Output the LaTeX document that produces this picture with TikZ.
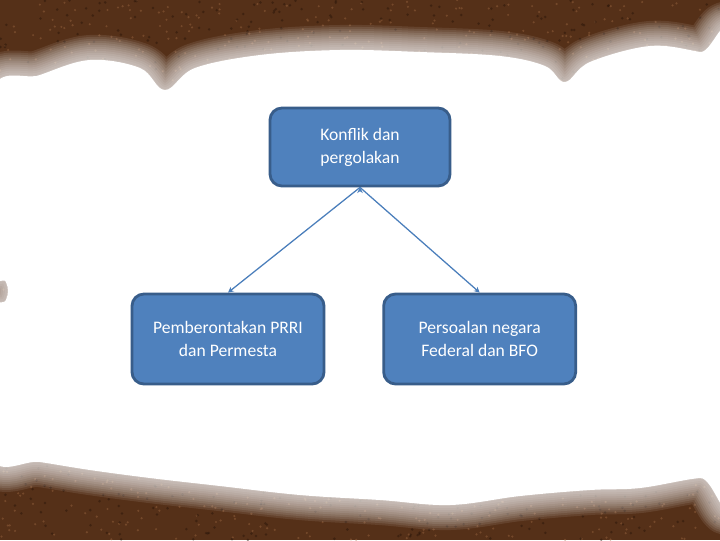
\documentclass[tikz,border=0pt]{standalone}
\usepackage{fontspec}
\setmainfont{Carlito}
\usetikzlibrary{arrows.meta}
\usetikzlibrary{positioning}
\definecolor{boxfill}{HTML}{4F81BD}
\definecolor{boxline}{HTML}{385D8A}
\definecolor{linkline}{HTML}{4A7EBB}
\definecolor{soil}{HTML}{553018}
\definecolor{soillight}{HTML}{9A6640}
\definecolor{soildark}{HTML}{2A160A}

\begin{document}
\begin{tikzpicture}[x=0.025cm,y=-0.025cm]
\tikzset{
  topic box/.style = {rectangle,rounded corners=0.3cm,draw=boxline,fill=boxfill,line width=2pt,
                      text=white,align=center,font=\fontsize{12.5}{16.3}\selectfont,inner sep=2pt},
  link/.style = {draw=linkline,line width=0.9pt,-{Stealth[length=4pt,width=4pt]}}
}
\useasboundingbox (0,0) rectangle (720,540);

%%%%%%%%%%%%%%%%%%%%%%%%%%%%%%%%%%%%%%%%%%
% background
\fill[soil] (0,0) rectangle (720,540);
\pgfmathsetseed{7}
\foreach \i in {1,...,1800} {
  \pgfmathsetmacro\rx{720*rnd}
  \pgfmathsetmacro\ry{540*rnd}
  \fill[soillight,opacity=0.45] (\rx,\ry) circle (0.03cm);
}
\foreach \i in {1,...,1400} {
  \pgfmathsetmacro\rx{720*rnd}
  \pgfmathsetmacro\ry{540*rnd}
  \fill[soildark,opacity=0.5] (\rx,\ry) circle (0.035cm);
}
\def\cloud{plot[smooth cycle,tension=0.6] coordinates {
  (-10,95) (40,75) (90,60) (140,68) (165,90) (195,68) (260,55) (340,50) (420,52)
  (500,56) (545,66) (565,82) (590,62) (650,46) (700,52) (735,60)
  (735,480) (700,478) (640,488) (590,490) (520,496) (450,505) (380,500)
  (300,495) (220,486) (150,478) (90,470) (40,462) (-10,455)
  (-10,320) (6,300) (6,282) (-10,262)}}
\foreach \w in {50,46,...,2} {
  \draw[white,opacity=0.09,line width={\w*0.025cm},line join=round] \cloud;
}
\fill[white] \cloud;

%%%%%%%%%%%%%%%%%%%%%%%%%%%%%%%%%%%%%%%%%%
\node[topic box,minimum width=4.5cm,minimum height=1.95cm] (konflik) at (360,147) {Konflik dan\\pergolakan};
\node[topic box,minimum width=4.8cm,minimum height=2.25cm] (prri) at (228,339) {Pemberontakan PRRI\\dan Permesta};
\node[topic box,minimum width=4.8cm,minimum height=2.25cm] (bfo) [right=1.42cm of prri] {Persoalan negara\\Federal dan BFO};

\path[link]
  (konflik.south) edge (prri.north)
  (konflik.south) edge (bfo.north);
\end{tikzpicture}
\end{document}
